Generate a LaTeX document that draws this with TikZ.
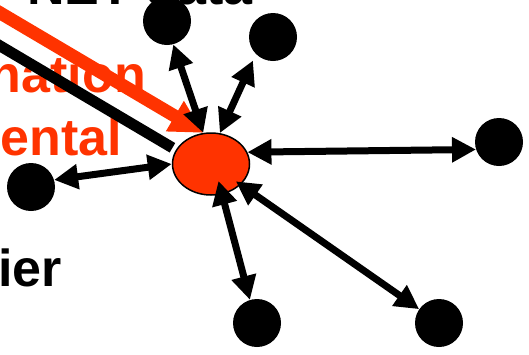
\documentclass[tikz,border=0pt]{standalone}
\usepackage{fontspec}
\setmainfont{Liberation Sans}
\usetikzlibrary{arrows.meta,shapes.geometric}
\definecolor{hot}{RGB}{255,51,0}

\begin{document}
\begin{tikzpicture}[x=1pt,y=-1pt,
  dot/.style={circle,fill=black,minimum size=48pt,inner sep=0pt},
  hub/.style={ellipse,draw=black,line width=1.5pt,fill=hot,
              minimum width=77pt,minimum height=62pt,inner sep=0pt},
  link/.style={line width=7pt,
               {Triangle[length=24pt,width=24pt]}-{Triangle[length=24pt,width=24pt]}},
  word/.style={font=\bfseries\fontsize{52}{52}\selectfont,inner sep=0pt,anchor=base east},
]
\useasboundingbox (0,0) rectangle (529,354);

% text fragments
\node[word] (top) at (253,4) {NET data};
\node[word,text=hot] (w1) at (146,92) {nation};
\node[word,text=hot] (w2) at (122,155) {ental};
\node[word] (w3) at (62,286) {ier};

% hub and its neighbours
\node[hub] (c) at (211,164) {};
\node[dot] (l)  at (31,187) {};
\node[dot] (u1) at (167,21) {};
\node[dot] (u2) at (273,37) {};
\node[dot] (r)  at (499,142) {};
\node[dot] (d1) at (257,323) {};
\node[dot] (d2) at (439,323) {};

% incoming bands from the left
\coordinate (fs) at (-20,34);
\coordinate (os) at (-20,1);
\draw[line width=11pt,shorten >=4pt] (fs) -- (c.158);
\draw[hot,line width=13pt,-{Triangle[length=33pt,width=33pt]}] (os) -- (c.104);

% two-way links
\draw[link] (c.180) -- (l.17);
\draw[link] (c.104) -- (u1.-75);
\draw[link,shorten >=7pt] (c.74) -- (u2.225);
\draw[link] (c.18) -- (r.198);
\draw[link,shorten <=-14pt] (c.-70) -- (d1.107);
\draw[link,shorten <=-6pt] (c) -- (d2);
\end{tikzpicture}
\end{document}
